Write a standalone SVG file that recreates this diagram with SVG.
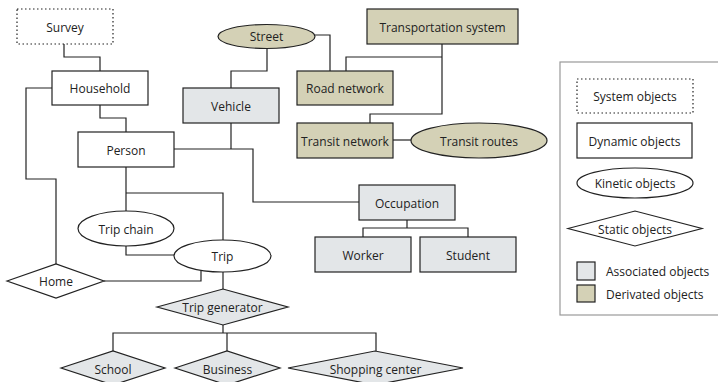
<svg xmlns="http://www.w3.org/2000/svg" width="718" height="382" viewBox="0 0 718 382">
<style>
text{font-family:"Open Sans","Noto Sans","Liberation Sans",sans-serif;font-size:12px;fill:#222;text-anchor:middle;dominant-baseline:central}
.n{fill:#fff;stroke:#222;stroke-width:1.2}
.sys{fill:#fff;stroke:#222;stroke-width:1.2;stroke-dasharray:1.5 2.5}
.a{fill:#e3e6e8;stroke:#222;stroke-width:1.2}
.d{fill:#d4d1b6;stroke:#222;stroke-width:1.2}
.c{fill:none;stroke:#222;stroke-width:1.2}
.lt{text-anchor:start}
</style>
<g id="connectors">
<path class="c" d="M64,44 V57 H100 V71"/>
<path class="c" d="M52,88 H26 V179 H56 V264"/>
<path class="c" d="M100,105 V118 H126 V132"/>
<path class="c" d="M315,35 H330 V71"/>
<path class="c" d="M267,48 V71 H231 V88"/>
<path class="c" d="M442,44 V114 H370 V123"/>
<path class="c" d="M442,57 H346 V71"/>
<path class="c" d="M393,140 H411"/>
<path class="c" d="M231,123 V149"/>
<path class="c" d="M174,149 H253 V202 H359"/>
<path class="c" d="M126,167 V211"/>
<path class="c" d="M126,193 H223 V240"/>
<path class="c" d="M126,246 V255 H174"/>
<path class="c" d="M104,281 H201 V271"/>
<path class="c" d="M223,272 V289"/>
<path class="c" d="M223,325 V333"/>
<path class="c" d="M113,351 V333 H376 V351"/>
<path class="c" d="M227,333 V351"/>
<path class="c" d="M407,220 V228"/>
<path class="c" d="M363,237 V228 H468 V237"/>
</g>
<g id="survey"><rect class="sys" x="17" y="9" width="96" height="35"/><text x="65" y="27">Survey</text></g>
<g id="household"><rect class="n" x="52" y="71" width="96" height="34"/><text x="100" y="88.5">Household</text></g>
<g id="person"><rect class="n" x="78" y="132" width="96" height="35"/><text x="126" y="150">Person</text></g>
<g id="street"><ellipse class="d" cx="266.5" cy="36.5" rx="48.5" ry="12"/><text x="266.5" y="36.5">Street</text></g>
<g id="vehicle"><rect class="a" x="183" y="88" width="96" height="35"/><text x="231" y="106">Vehicle</text></g>
<g id="transportation-system"><rect class="d" x="367" y="9" width="151" height="35"/><text x="442.5" y="27">Transportation system</text></g>
<g id="road-network"><rect class="d" x="297" y="71" width="96" height="34"/><text x="345" y="88.5">Road network</text></g>
<g id="transit-network"><rect class="d" x="297" y="123" width="96" height="35"/><text x="345" y="141">Transit network</text></g>
<g id="transit-routes"><ellipse class="d" cx="479" cy="140.5" rx="68" ry="17.5"/><text x="479" y="141">Transit routes</text></g>
<g id="occupation"><rect class="a" x="359" y="185" width="96" height="35"/><text x="407" y="203">Occupation</text></g>
<g id="worker"><rect class="a" x="315" y="237" width="96" height="35"/><text x="363" y="255">Worker</text></g>
<g id="student"><rect class="a" x="420" y="237" width="96" height="35"/><text x="468" y="255">Student</text></g>
<g id="trip-chain"><ellipse class="n" cx="126" cy="228.5" rx="48" ry="17.5"/><text x="126" y="229">Trip chain</text></g>
<g id="trip"><ellipse class="n" cx="222.5" cy="256" rx="48.5" ry="16"/><text x="222.5" y="256">Trip</text></g>
<g id="home"><polygon class="n" points="7,281 56,264 104,281 56,298"/><text x="56" y="281.5">Home</text></g>
<g id="trip-generator"><polygon class="a" points="157,307 223,289 288,307 223,325"/><text x="222.5" y="307.5">Trip generator</text></g>
<g id="school"><polygon class="a" points="61,368 113,351 165,368 113,385"/><text x="113" y="369">School</text></g>
<g id="business"><polygon class="a" points="175,368 227,351 280,368 227,385"/><text x="227.5" y="369">Business</text></g>
<g id="shopping-center"><polygon class="a" points="288,368 375,351 463,368 375,385"/><text x="375.5" y="369">Shopping center</text></g>
<g id="legend">
<rect x="560" y="62" width="170" height="253" fill="#fff" stroke="#999" stroke-width="1.2"/>
<rect class="sys" x="577" y="79" width="116" height="34"/><text x="635" y="96.5">System objects</text>
<rect class="n" x="577" y="123" width="115" height="35"/><text x="634.5" y="141">Dynamic objects</text>
<ellipse class="n" cx="635" cy="183" rx="58" ry="15"/><text x="635" y="183.5">Kinetic objects</text>
<polygon class="n" points="568,228.5 635,211 702,228.5 635,246"/><text x="635" y="229">Static objects</text>
<rect class="a" x="577" y="262" width="18" height="18"/><text class="lt" x="606" y="271.5">Associated objects</text>
<rect class="d" x="577" y="285" width="18" height="17"/><text class="lt" x="606" y="294">Derivated objects</text>
</g>
</svg>
